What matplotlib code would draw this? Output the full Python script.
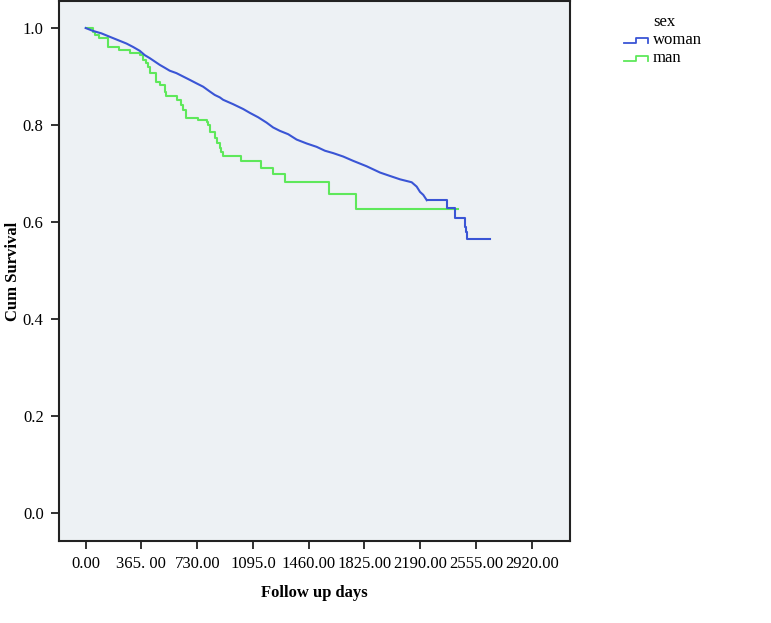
import matplotlib
matplotlib.use("Agg")
import matplotlib.pyplot as plt
from matplotlib.lines import Line2D

# ---- data ----
woman_days = [0, 48, 103, 157, 212, 267, 310, 354, 387, 419, 452, 485, 518, 550,
              594, 638, 682, 725, 769, 813, 845, 878, 900, 965, 1031, 1075, 1129,
              1184, 1227, 1271, 1326, 1381, 1446, 1512, 1566, 1621, 1686, 1752,
              1839, 1927, 1992, 2058, 2134, 2167, 2189, 2210, 2233, 2364, 2418,
              2484, 2490, 2495, 2647]
woman_surv = [1.0, 0.994, 0.989, 0.982, 0.975, 0.968, 0.961, 0.953, 0.944, 0.938,
              0.931, 0.924, 0.918, 0.912, 0.907, 0.900, 0.893, 0.886, 0.879, 0.869,
              0.862, 0.857, 0.852, 0.843, 0.833, 0.825, 0.816, 0.805, 0.795, 0.788,
              0.781, 0.770, 0.762, 0.755, 0.747, 0.742, 0.735, 0.726, 0.715, 0.702,
              0.695, 0.688, 0.682, 0.673, 0.662, 0.656, 0.645, 0.629, 0.609, 0.590,
              0.580, 0.565, 0.565]

man_days = [0, 45, 60, 85, 148, 215, 288, 354, 372, 393, 408, 419, 463, 485, 518,
            524, 600, 627, 638, 655, 736, 791, 801, 813, 845, 860, 878, 889, 900,
            1020, 1150, 1227, 1304, 1592, 1767, 2436]
man_surv = [1.0, 0.991, 0.985, 0.980, 0.960, 0.954, 0.949, 0.944, 0.935, 0.927,
            0.919, 0.908, 0.889, 0.882, 0.869, 0.860, 0.852, 0.842, 0.831, 0.814,
            0.810, 0.807, 0.800, 0.785, 0.773, 0.762, 0.752, 0.745, 0.737, 0.726,
            0.712, 0.698, 0.682, 0.657, 0.627, 0.627]

x_ticks = [0, 365, 730, 1095, 1460, 1825, 2190, 2555, 2920]
x_tick_labels = ["0.00", "365. 00", "730.00", "1095.0", "1460.00", "1825.00",
                 "2190.00", "2555.00", "2920.00"]
y_ticks = [0.0, 0.2, 0.4, 0.6, 0.8, 1.0]
y_tick_labels = ["0.0", "0.2", "0.4", "0.6", "0.8", "1.0"]

group_names = ["woman", "man"]
legend_title = "sex"

# ---- style ----
plt.rcParams['font.family'] = ['Liberation Serif', 'DejaVu Serif']
BLUE = "#3A55D5"
GREEN = "#5EE85A"
BG = "#EDF1F4"
FS = 12

fig = plt.figure(figsize=(7.71, 6.23), dpi=100)
ax = fig.add_axes([0.0765, 0.1316, 0.6628, 0.8668])
ax.set_facecolor(BG)

# women: dense events -> visually near-continuous; sparse tail drawn as steps
split = woman_days.index(2233)
ax.plot(woman_days[:split + 1], woman_surv[:split + 1], color=BLUE, lw=1.5,
        zorder=3, solid_joinstyle='miter')
ax.plot(woman_days[split:], woman_surv[split:], drawstyle='steps-post',
        color=BLUE, lw=1.5, zorder=3)
ax.plot(man_days, man_surv, drawstyle='steps-post', color=GREEN, lw=1.5, zorder=2)

ax.set_xlim(-174.8, 3170.7)
ax.set_ylim(-0.0577, 1.0557)
ax.set_xticks(x_ticks)
ax.set_xticklabels(x_tick_labels)
ax.set_yticks(y_ticks)
ax.set_yticklabels(y_tick_labels)
ax.tick_params(axis='both', direction='out', length=6, width=1.3, labelsize=FS,
               color='#222222', pad=5)
for s in ax.spines.values():
    s.set_linewidth(1.5)
    s.set_color('#222222')

ax.set_xlabel("Follow up days", fontsize=FS, fontweight='bold', labelpad=9)
ax.set_ylabel("Cum Survival", fontsize=FS, fontweight='bold', labelpad=1.5)

# ---- legend drawn outside, SPSS style ----
fig.text(653 / 771, 1 - 22 / 623, legend_title, fontsize=FS, va='center', ha='left')
ys = [40, 58]
for name, col, yy in zip(group_names, [BLUE, GREEN], ys):
    yf_hi = 1 - (yy - 2.5) / 623
    yf_lo = 1 - (yy + 3) / 623
    xs = [624 / 771, 636 / 771, 636 / 771, 648 / 771, 648 / 771]
    yv = [yf_lo, yf_lo, yf_hi, yf_hi, yf_lo]
    fig.add_artist(Line2D(xs, yv, color=col, lw=1.3, transform=fig.transFigure))
    fig.text(653 / 771, 1 - yy / 623, name, fontsize=FS, va='center', ha='left')

fig.savefig("out.png", dpi=100, facecolor='white')
